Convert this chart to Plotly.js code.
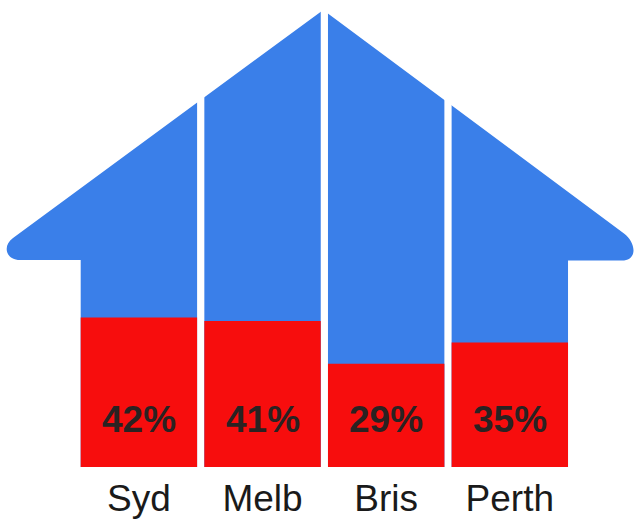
<!DOCTYPE html>
<html><head><meta charset="utf-8">
<script src="https://cdn.plot.ly/plotly-3.0.1.min.js"></script>
<style>html,body{margin:0;padding:0;background:#fff}#chart{width:636px;height:523px}</style>
</head><body><div id="chart"></div>
<script>
// Data
const cities = ["Syd", "Melb", "Bris", "Perth"];
const shares = [42, 41, 29, 35];

// Layout geometry (pixel-based decoration helpers)
const W = 636, H = 523, plotBottom = 467;
const pxPerUnitX = 123.64, x0px = 138.9, pxPerPct = 3.56;
const X = px => (px - x0px) / pxPerUnitX;
const Y = py => (plotBottom - py) / pxPerPct;
const barW = 0.9414;
const blue = "#3a7fe9", red = "#f70d0d";
const font = "Liberation Sans, Arial, Helvetica, sans-serif";
const yTop = plotBottom / pxPerPct;

const lw = -barW / 2, rw = cities.length - 1 + barW / 2;
const p = (px, py) => `${X(px)},${Y(py)}`;
const housePath =
  `M ${lw},0 L ${lw},${Y(260)} L ${p(20,260)} C ${p(6,260)} ${p(2,246)} ${p(13,238)} ` +
  `L ${p(323.2,9.9)} L ${p(624,233.5)} C ${p(636,242.4)} ${p(638,260.5)} ${p(622,260.5)} ` +
  `L ${rw},${Y(260.5)} L ${rw},0 Z`;

const shapes = [{type: "path", path: housePath, xref: "x", yref: "y", fillcolor: blue,
  line: {width: 0}, layer: "below"}];
for (let i = 0; i < cities.length - 1; i++) {
  shapes.push({type: "rect", xref: "x", yref: "y", x0: i + barW / 2, x1: i + 1 - barW / 2,
    y0: 0, y1: yTop, fillcolor: "#ffffff", line: {width: 0}, layer: "below"});
}

const trace = {type: "bar", x: cities, y: shares, width: barW,
  marker: {color: red, line: {width: 0}}, hoverinfo: "skip"};

const annotations = cities.map((c, i) => ({x: c, y: Y(419), xref: "x", yref: "y",
  text: "<b>" + shares[i] + "%</b>", showarrow: false,
  font: {size: 37, color: "#2a2222", family: font}}));

const layout = {
  width: W, height: H, margin: {l: 0, r: 0, t: 0, b: H - plotBottom},
  paper_bgcolor: "#fff", plot_bgcolor: "rgba(0,0,0,0)", showlegend: false,
  xaxis: {type: "category", range: [X(0), X(W)], showgrid: false, zeroline: false,
    showline: false, ticks: "", ticklabelstandoff: 6,
    tickfont: {size: 37, color: "#1a1a1a", family: font}, fixedrange: true},
  yaxis: {range: [0, yTop], visible: false, fixedrange: true},
  shapes: shapes, annotations: annotations
};
Plotly.newPlot("chart", [trace], layout, {displayModeBar: false, staticPlot: true});
</script></body></html>
